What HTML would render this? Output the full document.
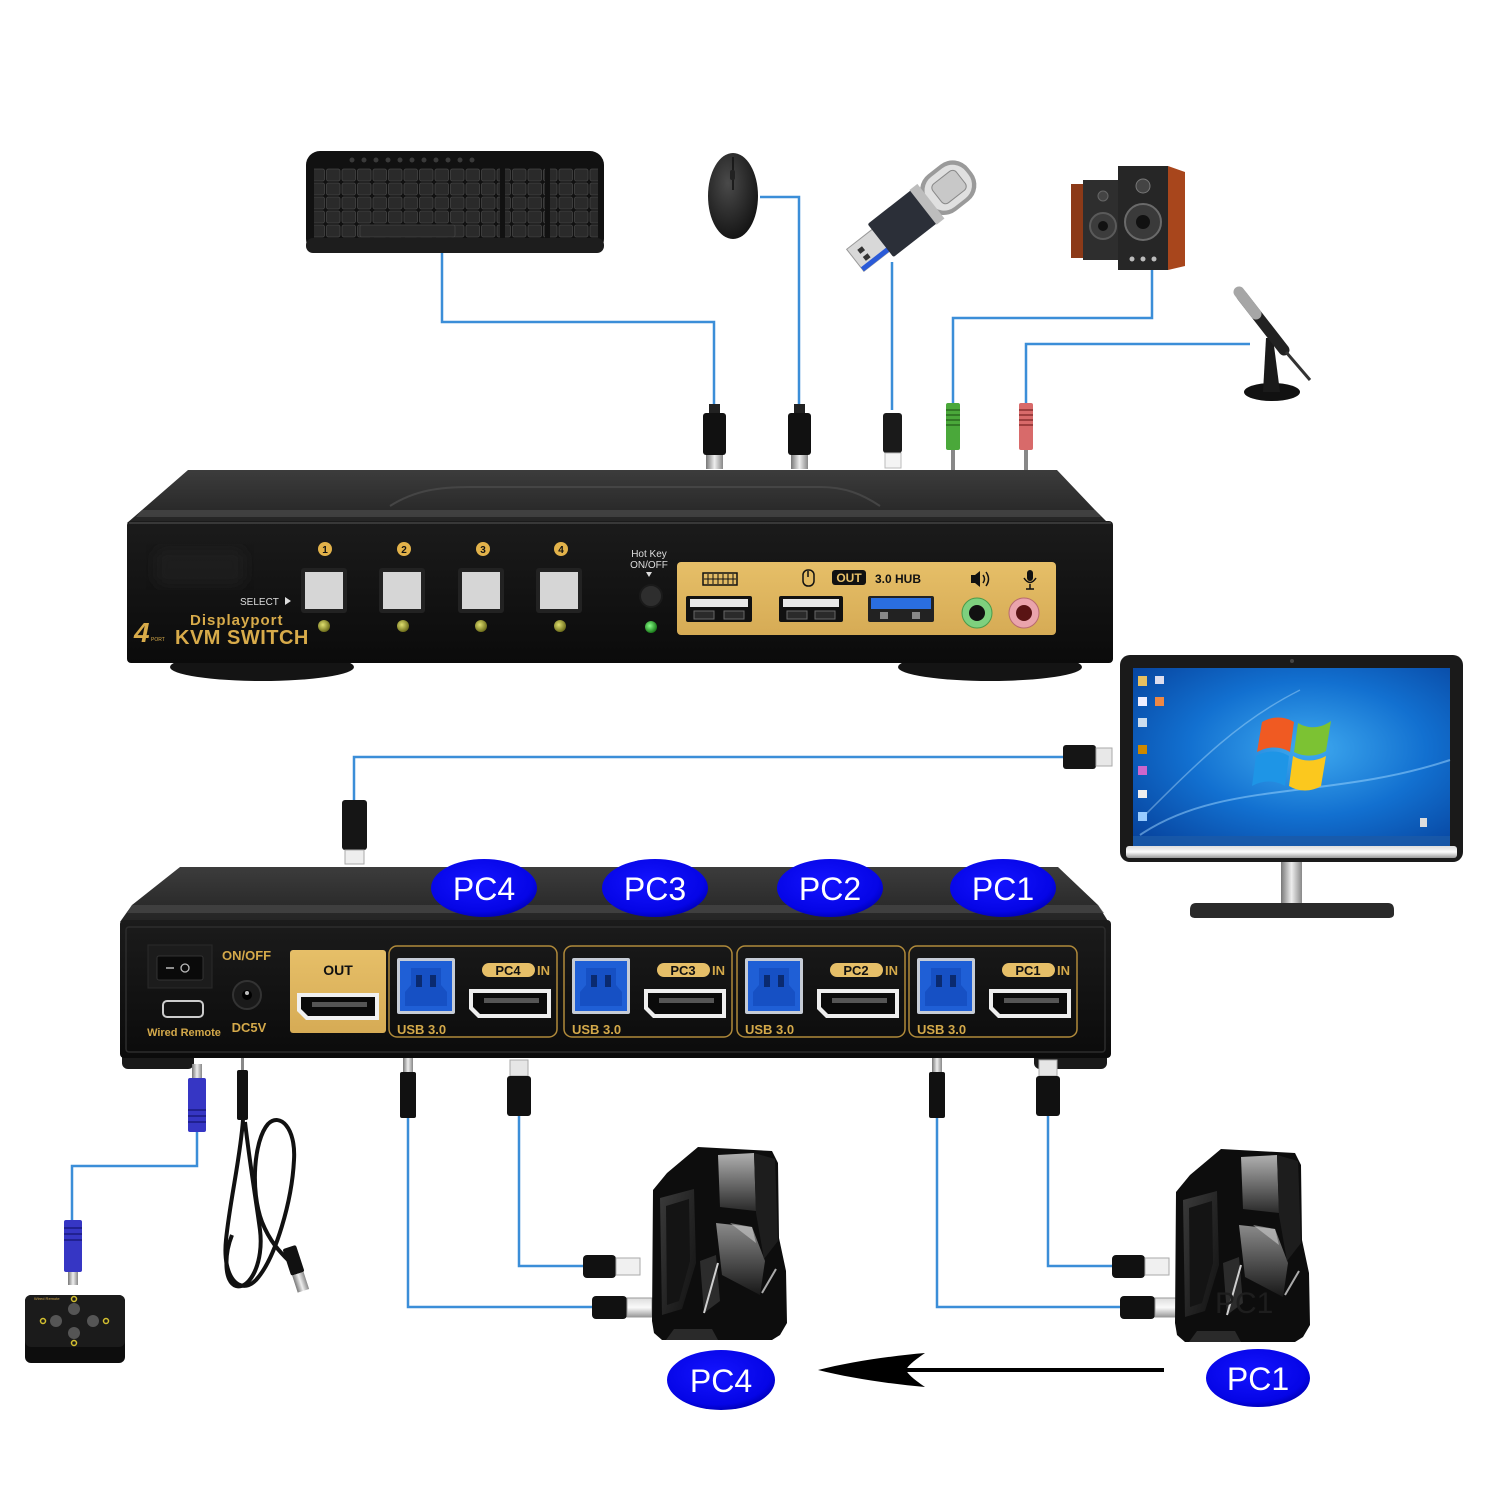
<!DOCTYPE html>
<html><head><meta charset="utf-8"><style>html,body{margin:0;padding:0;background:#fff}svg{display:block}</style></head>
<body>
<svg width="1500" height="1500" viewBox="0 0 1500 1500" xmlns="http://www.w3.org/2000/svg" xmlns:xlink="http://www.w3.org/1999/xlink" font-family="'Liberation Sans', Arial, sans-serif">
<defs>
<linearGradient id="topSurf" x1="0" y1="0" x2="0" y2="1"><stop offset="0" stop-color="#3c3c3c"/><stop offset="1" stop-color="#222"/></linearGradient>
<linearGradient id="face" x1="0" y1="0" x2="0" y2="1"><stop offset="0" stop-color="#1b1b1b"/><stop offset="1" stop-color="#0b0b0b"/></linearGradient>
<linearGradient id="gold" x1="0" y1="0" x2="0" y2="1"><stop offset="0" stop-color="#e6bf68"/><stop offset="1" stop-color="#d6ab55"/></linearGradient>
<linearGradient id="silverH" x1="0" y1="0" x2="1" y2="0"><stop offset="0" stop-color="#777"/><stop offset="0.5" stop-color="#eee"/><stop offset="1" stop-color="#888"/></linearGradient>
<linearGradient id="silverV" x1="0" y1="0" x2="0" y2="1"><stop offset="0" stop-color="#ddd"/><stop offset="0.5" stop-color="#fafafa"/><stop offset="1" stop-color="#999"/></linearGradient>
<radialGradient id="screen" cx="0.55" cy="0.45" r="0.75"><stop offset="0" stop-color="#3faaf0"/><stop offset="0.5" stop-color="#1270d0"/><stop offset="1" stop-color="#06409a"/></radialGradient>
<radialGradient id="ledY" cx="0.4" cy="0.4" r="0.6"><stop offset="0" stop-color="#e0e070"/><stop offset="1" stop-color="#6f6f1c"/></radialGradient>
<radialGradient id="ledG" cx="0.4" cy="0.4" r="0.6"><stop offset="0" stop-color="#8f8"/><stop offset="1" stop-color="#1a7a1a"/></radialGradient>
<radialGradient id="blueLab" cx="0.45" cy="0.4" r="0.6"><stop offset="0" stop-color="#1414ff"/><stop offset="0.85" stop-color="#0505e6"/><stop offset="1" stop-color="#0000c0"/></radialGradient>
<radialGradient id="mouseG" cx="0.4" cy="0.35" r="0.7"><stop offset="0" stop-color="#4a4a4a"/><stop offset="1" stop-color="#121212"/></radialGradient>
<linearGradient id="glossA" x1="0" y1="0" x2="0" y2="1"><stop offset="0" stop-color="#b0b0b0"/><stop offset="1" stop-color="#2a2a2a"/></linearGradient>
<linearGradient id="glossB" x1="0" y1="0" x2="0" y2="1"><stop offset="0" stop-color="#8a8a8a"/><stop offset="1" stop-color="#181818"/></linearGradient>
<linearGradient id="sideG" x1="0" y1="0" x2="1" y2="1"><stop offset="0" stop-color="#3a3a3a"/><stop offset="1" stop-color="#111"/></linearGradient>
<filter id="blur6"><feGaussianBlur stdDeviation="6"/></filter>
<pattern id="keys" width="15.5" height="14" patternUnits="userSpaceOnUse"><rect x="1" y="1" width="13.5" height="12" rx="2" fill="#2a2a2a" stroke="#444" stroke-width="0.8"/></pattern>
<g id="tower">
 <path d="M1,47 L15,30 L46,4 L120,8 L126,20 L127,95 L134,128 L135,180 L128,192 L120,197 L10,197 L2,190 L0,178 Z" fill="#0d0d0d"/>
 <path d="M8,55 L42,46 L44,120 L30,166 L10,172 Z" fill="url(#sideG)"/>
 <path d="M14,63 L37,56 L38,118 L27,158 L15,162 Z" fill="#141414"/>
 <path d="M66,12 L102,10 L104,68 L68,64 Z" fill="url(#glossA)"/>
 <path d="M64,80 L100,84 L113,118 L108,152 L70,132 Z" fill="url(#glossB)"/>
 <path d="M102,10 L123,16 L126,98 L112,116 L104,70 Z" fill="#1d1d1d"/>
 <path d="M48,118 L64,112 L68,158 L52,170 Z" fill="#2c2c2c"/>
 <line x1="52" y1="170" x2="66" y2="120" stroke="#cfcfcf" stroke-width="2"/>
 <line x1="110" y1="150" x2="124" y2="126" stroke="#aaa" stroke-width="2"/>
 <path d="M78,80 L100,84 L104,100 Z" fill="#ccc" opacity="0.6"/>
 <path d="M14,197 L22,186 L60,186 L66,197 Z" fill="#2a2a2a"/>
</g>
</defs>

<rect width="1500" height="1500" fill="#fff"/>

<!-- ============ WIRES (top) ============ -->
<g fill="none" stroke="#3b8ed8" stroke-width="2.5">
 <path d="M442,253 L442,322 L714,322 L714,408"/>
 <path d="M760,197 L799,197 L799,408"/>
 <path d="M892,262 L892,410"/>
 <path d="M1152,268 L1152,318 L953,318 L953,405"/>
 <path d="M1250,344 L1026,344 L1026,405"/>
 <path d="M1065,757 L354,757 L354,802"/>
 <path d="M197,1132 L197,1166 L72,1166 L72,1222"/>
 <path d="M408,1116 L408,1307 L594,1307"/>
 <path d="M519,1115 L519,1266 L585,1266"/>
 <path d="M937,1116 L937,1307 L1122,1307"/>
 <path d="M1048,1115 L1048,1266 L1114,1266"/>
</g>

<!-- ============ KEYBOARD ============ -->
<rect x="306" y="151" width="298" height="102" rx="14" fill="#111"/>
<rect x="306" y="238" width="298" height="15" rx="7" fill="#1d1d1d"/>
<g fill="#3a3a3a">
 <circle cx="352" cy="160" r="2.5"/><circle cx="364" cy="160" r="2.5"/><circle cx="376" cy="160" r="2.5"/><circle cx="388" cy="160" r="2.5"/><circle cx="400" cy="160" r="2.5"/><circle cx="412" cy="160" r="2.5"/><circle cx="424" cy="160" r="2.5"/><circle cx="436" cy="160" r="2.5"/><circle cx="448" cy="160" r="2.5"/><circle cx="460" cy="160" r="2.5"/><circle cx="472" cy="160" r="2.5"/>
</g>
<rect x="314" y="168" width="186" height="70" fill="url(#keys)"/>
<rect x="505" y="168" width="40" height="70" fill="url(#keys)"/>
<rect x="550" y="168" width="48" height="70" fill="url(#keys)"/>
<rect x="360" y="225" width="95" height="12" rx="2" fill="#2a2a2a" stroke="#444" stroke-width="0.8"/>

<!-- ============ MOUSE ============ -->
<ellipse cx="733" cy="196" rx="25" ry="43" fill="url(#mouseG)"/>
<path d="M733,157 L733,190" stroke="#111" stroke-width="1.5"/>
<rect x="730" y="170" width="5" height="10" rx="2" fill="#222"/>

<!-- ============ FLASH DRIVE ============ -->
<g transform="translate(912,216) rotate(-38)">
 <rect x="-72" y="-14" width="34" height="28" fill="#d8d8d8" stroke="#999"/>
 <rect x="-72" y="9" width="34" height="5" fill="#2a5ad8"/>
 <rect x="-64" y="-7" width="6" height="5" fill="#333"/>
 <rect x="-64" y="2" width="6" height="5" fill="#333"/>
 <rect x="-40" y="-21" width="62" height="42" rx="2" fill="#2b2f38"/>
 <rect x="18" y="-23" width="56" height="46" rx="20" fill="#9a9a9a"/>
 <rect x="22" y="-19" width="48" height="38" rx="17" fill="#e0e0e0"/>
 <rect x="32" y="-12" width="30" height="24" rx="5" fill="#c8c8c8" stroke="#888"/>
 <rect x="14" y="-22" width="10" height="44" fill="#bdbdbd"/>
</g>

<!-- ============ SPEAKERS ============ -->
<rect x="1071" y="184" width="13" height="74" fill="#8c3a18"/>
<rect x="1083" y="180" width="40" height="80" fill="#2e2e2e"/>
<circle cx="1103" cy="226" r="13" fill="#3c3c3c" stroke="#5a5a5a" stroke-width="2"/>
<circle cx="1103" cy="226" r="5" fill="#111"/>
<circle cx="1103" cy="196" r="5" fill="#444" stroke="#666"/>
<rect x="1118" y="166" width="50" height="104" fill="#262626"/>
<path d="M1168,166 L1185,172 L1185,266 L1168,270 Z" fill="#a8461c"/>
<circle cx="1143" cy="222" r="18" fill="#3a3a3a" stroke="#6a6a6a" stroke-width="2"/>
<circle cx="1143" cy="222" r="7" fill="#111"/>
<circle cx="1143" cy="186" r="7" fill="#444" stroke="#777"/>
<circle cx="1132" cy="259" r="2.5" fill="#bbb"/><circle cx="1143" cy="259" r="2.5" fill="#bbb"/><circle cx="1154" cy="259" r="2.5" fill="#bbb"/>

<!-- ============ MIC ============ -->
<ellipse cx="1272" cy="392" rx="28" ry="9" fill="#111"/>
<path d="M1263,392 L1266,338 L1273,338 L1280,392 Z" fill="#1a1a1a"/>
<line x1="1242" y1="296" x2="1284" y2="350" stroke="#222" stroke-width="11" stroke-linecap="round"/>
<line x1="1239" y1="292" x2="1256" y2="314" stroke="#a6a6a6" stroke-width="11" stroke-linecap="round"/>
<line x1="1286" y1="352" x2="1310" y2="380" stroke="#333" stroke-width="3"/>

<!-- ============ TOP PLUGS ============ -->
<g>
 <rect x="709" y="404" width="11" height="10" fill="#222"/>
 <rect x="703" y="413" width="23" height="42" rx="3" fill="#111"/>
 <rect x="706" y="455" width="17" height="14" fill="url(#silverH)"/>
 <rect x="794" y="404" width="11" height="10" fill="#222"/>
 <rect x="788" y="413" width="23" height="42" rx="3" fill="#111"/>
 <rect x="791" y="455" width="17" height="14" fill="url(#silverH)"/>
 <rect x="883" y="413" width="19" height="40" rx="3" fill="#1a1a1a"/>
 <rect x="885" y="453" width="16" height="15" fill="#f4f4f4" stroke="#bbb"/>
 <rect x="946" y="403" width="14" height="47" rx="2" fill="#4aa83a"/>
 <g stroke="#2a6a20" stroke-width="1.5"><line x1="946" y1="410" x2="960" y2="410"/><line x1="946" y1="415" x2="960" y2="415"/><line x1="946" y1="420" x2="960" y2="420"/><line x1="946" y1="425" x2="960" y2="425"/></g>
 <rect x="951" y="450" width="4" height="21" fill="#888"/>
 <rect x="1019" y="403" width="14" height="47" rx="2" fill="#d86a6a"/>
 <g stroke="#8a3030" stroke-width="1.5"><line x1="1019" y1="410" x2="1033" y2="410"/><line x1="1019" y1="415" x2="1033" y2="415"/><line x1="1019" y1="420" x2="1033" y2="420"/><line x1="1019" y1="425" x2="1033" y2="425"/></g>
 <rect x="1024" y="450" width="4" height="21" fill="#888"/>
</g>

<!-- ============ TOP BOX (front) ============ -->
<ellipse cx="262" cy="667" rx="92" ry="14" fill="#141414"/>
<ellipse cx="990" cy="667" rx="92" ry="14" fill="#141414"/>
<path d="M188,470 L1057,470 L1095,510 L1112,527 L127,523 L142,510 Z" fill="url(#topSurf)"/>
<path d="M142,510 L1095,510 L1101,517 L136,517 Z" fill="#4a4a4a" opacity="0.7"/>
<path d="M390,506 C415,490 440,487 470,487 L820,487 C845,487 862,494 880,506" fill="none" stroke="#454545" stroke-width="2"/>
<rect x="127" y="521" width="986" height="142" rx="4" fill="url(#face)"/>
<line x1="129" y1="523" x2="1111" y2="523" stroke="#383838" stroke-width="2"/>
<rect x="155" y="548" width="90" height="38" rx="10" fill="#222" opacity="0.6" filter="url(#blur6)"/>

<g font-weight="bold" font-size="10" text-anchor="middle">
 <circle cx="325" cy="549" r="7" fill="#e2b24a"/><text x="325" y="553" fill="#111">1</text>
 <circle cx="404" cy="549" r="7" fill="#e2b24a"/><text x="404" y="553" fill="#111">2</text>
 <circle cx="483" cy="549" r="7" fill="#e2b24a"/><text x="483" y="553" fill="#111">3</text>
 <circle cx="561" cy="549" r="7" fill="#e2b24a"/><text x="561" y="553" fill="#111">4</text>
</g>
<g>
 <rect x="301" y="568" width="46" height="45" rx="3" fill="#222"/><rect x="305" y="572" width="38" height="37" fill="#d6d6d6"/>
 <rect x="379" y="568" width="46" height="45" rx="3" fill="#222"/><rect x="383" y="572" width="38" height="37" fill="#d6d6d6"/>
 <rect x="458" y="568" width="46" height="45" rx="3" fill="#222"/><rect x="462" y="572" width="38" height="37" fill="#d6d6d6"/>
 <rect x="536" y="568" width="46" height="45" rx="3" fill="#222"/><rect x="540" y="572" width="38" height="37" fill="#d6d6d6"/>
 <circle cx="324" cy="626" r="6" fill="url(#ledY)"/>
 <circle cx="403" cy="626" r="6" fill="url(#ledY)"/>
 <circle cx="481" cy="626" r="6" fill="url(#ledY)"/>
 <circle cx="560" cy="626" r="6" fill="url(#ledY)"/>
</g>
<text x="240" y="605" font-size="10" fill="#ddd">SELECT</text>
<polygon points="285,597 291,601 285,605" fill="#ddd"/>
<text x="190" y="625" font-size="15" font-weight="bold" fill="#d8ab4a" letter-spacing="1">Displayport</text>
<text x="175" y="644" font-size="20" font-weight="bold" fill="#d8ab4a" letter-spacing="0.5">KVM SWITCH</text>
<text x="134" y="642" font-size="28" font-weight="bold" font-style="italic" fill="#d8ab4a">4</text>
<text x="151" y="641" font-size="5" fill="#d8ab4a">PORT</text>

<text x="649" y="557" font-size="10" fill="#ddd" text-anchor="middle">Hot Key</text>
<text x="649" y="568" font-size="10" fill="#ddd" text-anchor="middle">ON/OFF</text>
<polygon points="646,572 652,572 649,577" fill="#ddd"/>
<circle cx="651" cy="596" r="11" fill="#2e2e2e" stroke="#1a1a1a" stroke-width="2"/>
<circle cx="651" cy="627" r="6" fill="url(#ledG)"/>

<rect x="677" y="562" width="379" height="73" rx="4" fill="url(#gold)"/>
<rect x="703" y="573" width="34" height="12" fill="none" stroke="#111" stroke-width="1.5"/>
<g stroke="#111" stroke-width="1"><line x1="708" y1="574" x2="708" y2="584"/><line x1="713" y1="574" x2="713" y2="584"/><line x1="718" y1="574" x2="718" y2="584"/><line x1="723" y1="574" x2="723" y2="584"/><line x1="728" y1="574" x2="728" y2="584"/><line x1="733" y1="574" x2="733" y2="584"/><line x1="704" y1="579" x2="736" y2="579"/></g>
<rect x="686" y="596" width="66" height="26" rx="2" fill="#111"/>
<rect x="690" y="599" width="58" height="8" fill="#e8e8e8"/>
<rect x="694" y="611" width="20" height="8" fill="#2a2a2a" stroke="#666"/><rect x="724" y="611" width="20" height="8" fill="#2a2a2a" stroke="#666"/>
<rect x="803" y="570" width="11" height="16" rx="5" fill="none" stroke="#111" stroke-width="1.5"/>
<line x1="808" y1="571" x2="808" y2="577" stroke="#111" stroke-width="1.5"/>
<rect x="779" y="596" width="64" height="26" rx="2" fill="#111"/>
<rect x="783" y="599" width="56" height="8" fill="#e8e8e8"/>
<rect x="787" y="611" width="20" height="8" fill="#2a2a2a" stroke="#666"/><rect x="815" y="611" width="20" height="8" fill="#2a2a2a" stroke="#666"/>
<rect x="832" y="570" width="34" height="15" rx="3" fill="#111"/>
<text x="849" y="582" font-size="12" font-weight="bold" fill="#e6bf68" text-anchor="middle">OUT</text>
<text x="875" y="583" font-size="12" font-weight="bold" fill="#111">3.0 HUB</text>
<rect x="868" y="596" width="66" height="26" rx="2" fill="#222"/>
<rect x="871" y="598" width="60" height="11" fill="#2a6ee0"/>
<rect x="880" y="612" width="8" height="7" fill="#888"/><rect x="912" y="612" width="8" height="7" fill="#888"/>
<polygon points="971,575 975,575 980,571 980,587 975,583 971,583" fill="#111"/>
<path d="M983,575 Q986,579 983,583 M986,572 Q991,579 986,586" fill="none" stroke="#111" stroke-width="1.5"/>
<rect x="1027" y="570" width="6" height="11" rx="3" fill="#111"/>
<path d="M1024,578 Q1030,587 1036,578 M1030,584 L1030,589 M1026,589 L1034,589" fill="none" stroke="#111" stroke-width="1.5"/>
<circle cx="977" cy="613" r="15" fill="#7ed07e" stroke="#4a9a4a"/>
<circle cx="977" cy="613" r="8" fill="#111"/>
<circle cx="1024" cy="613" r="15" fill="#eaa4ac" stroke="#b86a70"/>
<circle cx="1024" cy="613" r="8" fill="#5a1414"/>

<!-- ============ MONITOR ============ -->
<rect x="1120" y="655" width="343" height="207" rx="10" fill="#1a1a1a"/>
<rect x="1133" y="668" width="317" height="180" fill="url(#screen)"/>
<path d="M1140,835 C1220,780 1330,800 1450,760" fill="none" stroke="#9fd8ff" stroke-width="2" opacity="0.5"/>
<path d="M1140,820 C1200,760 1240,720 1300,690" fill="none" stroke="#bfe6ff" stroke-width="1.5" opacity="0.4"/>
<rect x="1133" y="836" width="317" height="10" fill="#1c5aa8" opacity="0.8"/>
<rect x="1126" y="846" width="331" height="12" rx="3" fill="url(#silverV)"/>
<circle cx="1292" cy="661" r="2" fill="#444"/>
<g>
 <rect x="1138" y="676" width="9" height="10" fill="#e8c060"/><rect x="1155" y="676" width="9" height="8" fill="#dde"/>
 <rect x="1138" y="697" width="9" height="9" fill="#eef"/><rect x="1155" y="697" width="9" height="9" fill="#e84"/>
 <rect x="1138" y="718" width="9" height="9" fill="#cde"/>
 <rect x="1138" y="745" width="9" height="9" fill="#c80"/>
 <rect x="1138" y="766" width="9" height="9" fill="#c6c"/>
 <rect x="1138" y="790" width="9" height="8" fill="#eee"/>
 <rect x="1138" y="812" width="9" height="9" fill="#9cf"/>
 <rect x="1420" y="818" width="7" height="9" fill="#ddd"/>
</g>
<path d="M1262,722 C1272,716 1284,716 1294,722 L1290,752 C1280,746 1268,746 1257,752 Z" fill="#f05a22"/>
<path d="M1298,723 C1308,729 1320,729 1331,721 L1326,751 C1316,757 1304,757 1294,752 Z" fill="#7cc233"/>
<path d="M1256,756 C1267,750 1279,750 1289,756 L1285,786 C1275,780 1263,780 1252,786 Z" fill="#1e95e6"/>
<path d="M1293,756 C1303,762 1315,762 1326,756 L1321,786 C1311,792 1299,792 1289,786 Z" fill="#fbc81e"/>
<rect x="1281" y="862" width="21" height="43" fill="url(#silverH)"/>
<path d="M1196,903 L1388,903 Q1394,903 1394,910 L1394,914 Q1394,918 1388,918 L1196,918 Q1190,918 1190,914 L1190,910 Q1190,903 1196,903 Z" fill="#2a2a2a"/>
<rect x="1063" y="745" width="33" height="24" rx="3" fill="#151515"/>
<rect x="1096" y="748" width="16" height="18" fill="#e8e8e8" stroke="#aaa"/>

<!-- DP plug above rear box -->
<rect x="342" y="800" width="25" height="50" rx="3" fill="#151515"/>
<rect x="345" y="850" width="19" height="14" fill="#eee" stroke="#aaa"/>

<!-- ============ BOTTOM BOX (rear) ============ -->
<rect x="122" y="1050" width="72" height="19" rx="6" fill="#1a1a1a"/>
<rect x="1034" y="1050" width="73" height="19" rx="6" fill="#1a1a1a"/>
<path d="M180,867 L1058,867 L1098,905 L1111,926 L120,922 L132,905 Z" fill="url(#topSurf)"/>
<path d="M132,905 L1098,905 L1104,913 L127,913 Z" fill="#484848" opacity="0.7"/>
<rect x="120" y="920" width="991" height="138" rx="4" fill="url(#face)"/>
<rect x="126" y="927" width="979" height="125" rx="3" fill="none" stroke="#2c2c2c" stroke-width="1.5"/>

<g text-anchor="middle" font-size="32" fill="#fff">
 <ellipse cx="484" cy="888" rx="53" ry="29" fill="url(#blueLab)"/><text x="484" y="900">PC4</text>
 <ellipse cx="655" cy="888" rx="53" ry="29" fill="url(#blueLab)"/><text x="655" y="900">PC3</text>
 <ellipse cx="830" cy="888" rx="53" ry="29" fill="url(#blueLab)"/><text x="830" y="900">PC2</text>
 <ellipse cx="1003" cy="888" rx="53" ry="29" fill="url(#blueLab)"/><text x="1003" y="900">PC1</text>
</g>

<rect x="148" y="945" width="64" height="43" fill="#1c1c1c" stroke="#2a2a2a"/>
<rect x="157" y="956" width="46" height="24" rx="2" fill="#0a0a0a" stroke="#333"/>
<line x1="166" y1="968" x2="174" y2="968" stroke="#bbb" stroke-width="1.5"/>
<circle cx="185" cy="968" r="4" fill="none" stroke="#bbb" stroke-width="1.3"/>
<text x="222" y="960" font-size="13" font-weight="bold" fill="#d4a94a">ON/OFF</text>
<rect x="163" y="1001" width="40" height="16" rx="4" fill="#111" stroke="#ccc" stroke-width="2"/>
<text x="184" y="1036" font-size="11" font-weight="bold" fill="#d4a94a" text-anchor="middle">Wired Remote</text>
<circle cx="247" cy="995" r="14" fill="#1a1a1a" stroke="#333" stroke-width="2"/>
<circle cx="247" cy="995" r="5" fill="#000"/><circle cx="247" cy="993" r="2" fill="#bbb"/>
<text x="249" y="1032" font-size="13" font-weight="bold" fill="#d4a94a" text-anchor="middle">DC5V</text>

<rect x="290" y="950" width="96" height="83" rx="3" fill="url(#gold)"/>
<text x="338" y="975" font-size="14" font-weight="bold" fill="#111" text-anchor="middle">OUT</text>
<path d="M297,993 L379,993 L379,1020 L306,1020 L297,1011 Z" fill="#f0f0f0"/>
<path d="M301,997 L375,997 L375,1016 L308,1016 L301,1009 Z" fill="#0a0a0a"/>
<rect x="312" y="1002" width="55" height="5" fill="#555"/>

<g transform="translate(389,0)">
 <rect x="0" y="946" width="168" height="91" rx="8" fill="none" stroke="#b08a3a" stroke-width="1.5"/>
 <rect x="8" y="958" width="58" height="56" rx="2" fill="#c6ccd6"/>
 <rect x="11" y="961" width="52" height="50" fill="#1f5fd6"/>
 <path d="M22,968 L52,968 L52,985 L58,992 L58,1006 L16,1006 L16,992 L22,985 Z" fill="#1650c4"/>
 <rect x="27" y="975" width="6" height="12" fill="#0a2a70"/><rect x="41" y="975" width="6" height="12" fill="#0a2a70"/>
 <rect x="93" y="963" width="53" height="14" rx="7" fill="#e6bf68"/>
 <text x="119" y="975" font-size="13" font-weight="bold" fill="#111" text-anchor="middle">PC4</text>
 <text x="148" y="975" font-size="13" font-weight="bold" fill="#d4a94a">IN</text>
 <path d="M80,989 L162,989 L162,1018 L89,1018 L80,1009 Z" fill="#eee"/>
 <path d="M84,993 L158,993 L158,1014 L91,1014 L84,1007 Z" fill="#0a0a0a"/>
 <rect x="95" y="998" width="55" height="5" fill="#555"/>
 <text x="8" y="1034" font-size="13" font-weight="bold" fill="#d4a94a">USB 3.0</text>
</g>
<g transform="translate(564,0)">
 <rect x="0" y="946" width="168" height="91" rx="8" fill="none" stroke="#b08a3a" stroke-width="1.5"/>
 <rect x="8" y="958" width="58" height="56" rx="2" fill="#c6ccd6"/>
 <rect x="11" y="961" width="52" height="50" fill="#1f5fd6"/>
 <path d="M22,968 L52,968 L52,985 L58,992 L58,1006 L16,1006 L16,992 L22,985 Z" fill="#1650c4"/>
 <rect x="27" y="975" width="6" height="12" fill="#0a2a70"/><rect x="41" y="975" width="6" height="12" fill="#0a2a70"/>
 <rect x="93" y="963" width="53" height="14" rx="7" fill="#e6bf68"/>
 <text x="119" y="975" font-size="13" font-weight="bold" fill="#111" text-anchor="middle">PC3</text>
 <text x="148" y="975" font-size="13" font-weight="bold" fill="#d4a94a">IN</text>
 <path d="M80,989 L162,989 L162,1018 L89,1018 L80,1009 Z" fill="#eee"/>
 <path d="M84,993 L158,993 L158,1014 L91,1014 L84,1007 Z" fill="#0a0a0a"/>
 <rect x="95" y="998" width="55" height="5" fill="#555"/>
 <text x="8" y="1034" font-size="13" font-weight="bold" fill="#d4a94a">USB 3.0</text>
</g>
<g transform="translate(737,0)">
 <rect x="0" y="946" width="168" height="91" rx="8" fill="none" stroke="#b08a3a" stroke-width="1.5"/>
 <rect x="8" y="958" width="58" height="56" rx="2" fill="#c6ccd6"/>
 <rect x="11" y="961" width="52" height="50" fill="#1f5fd6"/>
 <path d="M22,968 L52,968 L52,985 L58,992 L58,1006 L16,1006 L16,992 L22,985 Z" fill="#1650c4"/>
 <rect x="27" y="975" width="6" height="12" fill="#0a2a70"/><rect x="41" y="975" width="6" height="12" fill="#0a2a70"/>
 <rect x="93" y="963" width="53" height="14" rx="7" fill="#e6bf68"/>
 <text x="119" y="975" font-size="13" font-weight="bold" fill="#111" text-anchor="middle">PC2</text>
 <text x="148" y="975" font-size="13" font-weight="bold" fill="#d4a94a">IN</text>
 <path d="M80,989 L162,989 L162,1018 L89,1018 L80,1009 Z" fill="#eee"/>
 <path d="M84,993 L158,993 L158,1014 L91,1014 L84,1007 Z" fill="#0a0a0a"/>
 <rect x="95" y="998" width="55" height="5" fill="#555"/>
 <text x="8" y="1034" font-size="13" font-weight="bold" fill="#d4a94a">USB 3.0</text>
</g>
<g transform="translate(909,0)">
 <rect x="0" y="946" width="168" height="91" rx="8" fill="none" stroke="#b08a3a" stroke-width="1.5"/>
 <rect x="8" y="958" width="58" height="56" rx="2" fill="#c6ccd6"/>
 <rect x="11" y="961" width="52" height="50" fill="#1f5fd6"/>
 <path d="M22,968 L52,968 L52,985 L58,992 L58,1006 L16,1006 L16,992 L22,985 Z" fill="#1650c4"/>
 <rect x="27" y="975" width="6" height="12" fill="#0a2a70"/><rect x="41" y="975" width="6" height="12" fill="#0a2a70"/>
 <rect x="93" y="963" width="53" height="14" rx="7" fill="#e6bf68"/>
 <text x="119" y="975" font-size="13" font-weight="bold" fill="#111" text-anchor="middle">PC1</text>
 <text x="148" y="975" font-size="13" font-weight="bold" fill="#d4a94a">IN</text>
 <path d="M80,989 L162,989 L162,1018 L89,1018 L80,1009 Z" fill="#eee"/>
 <path d="M84,993 L158,993 L158,1014 L91,1014 L84,1007 Z" fill="#0a0a0a"/>
 <rect x="95" y="998" width="55" height="5" fill="#555"/>
 <text x="8" y="1034" font-size="13" font-weight="bold" fill="#d4a94a">USB 3.0</text>
</g>

<!-- ============ BOTTOM PLUGS ============ -->
<g>
 <rect x="403" y="1058" width="10" height="14" fill="url(#silverH)"/>
 <rect x="400" y="1072" width="16" height="46" rx="2" fill="#111"/>
 <rect x="510" y="1060" width="18" height="16" fill="#e6e6e6" stroke="#aaa"/>
 <rect x="507" y="1076" width="24" height="40" rx="3" fill="#111"/>
 <rect x="932" y="1058" width="10" height="14" fill="url(#silverH)"/>
 <rect x="929" y="1072" width="16" height="46" rx="2" fill="#111"/>
 <rect x="1039" y="1060" width="18" height="16" fill="#e6e6e6" stroke="#aaa"/>
 <rect x="1036" y="1076" width="24" height="40" rx="3" fill="#111"/>
 <rect x="583" y="1255" width="33" height="23" rx="4" fill="#111"/>
 <rect x="616" y="1258" width="24" height="17" fill="#f0f0f0" stroke="#aaa"/>
 <rect x="592" y="1296" width="35" height="23" rx="4" fill="#111"/>
 <rect x="627" y="1298" width="25" height="19" fill="url(#silverV)" stroke="#999"/>
 <rect x="1112" y="1255" width="33" height="23" rx="4" fill="#111"/>
 <rect x="1145" y="1258" width="24" height="17" fill="#f0f0f0" stroke="#aaa"/>
 <rect x="1120" y="1296" width="35" height="23" rx="4" fill="#111"/>
 <rect x="1155" y="1298" width="25" height="19" fill="url(#silverV)" stroke="#999"/>
</g>

<!-- remote cable plugs -->
<rect x="192" y="1064" width="10" height="14" fill="url(#silverH)"/>
<rect x="188" y="1078" width="18" height="54" rx="2" fill="#3636c4"/>
<g stroke="#1a1a80" stroke-width="1.5"><line x1="188" y1="1110" x2="206" y2="1110"/><line x1="188" y1="1116" x2="206" y2="1116"/><line x1="188" y1="1122" x2="206" y2="1122"/></g>
<rect x="64" y="1220" width="18" height="52" rx="2" fill="#3636c4"/>
<g stroke="#1a1a80" stroke-width="1.5"><line x1="64" y1="1228" x2="82" y2="1228"/><line x1="64" y1="1234" x2="82" y2="1234"/><line x1="64" y1="1240" x2="82" y2="1240"/></g>
<rect x="68" y="1272" width="10" height="13" fill="url(#silverH)"/>

<!-- remote -->
<rect x="25" y="1295" width="100" height="68" rx="6" fill="#0d0d0d"/>
<rect x="25" y="1295" width="100" height="52" rx="6" fill="#1b1b1b"/>
<circle cx="74" cy="1309" r="6" fill="#555"/><circle cx="56" cy="1321" r="6" fill="#555"/><circle cx="93" cy="1321" r="6" fill="#555"/><circle cx="74" cy="1333" r="6" fill="#555"/>
<g fill="none" stroke="#d4c030" stroke-width="1.5"><circle cx="74" cy="1299" r="2.5"/><circle cx="43" cy="1321" r="2.5"/><circle cx="106" cy="1321" r="2.5"/><circle cx="74" cy="1343" r="2.5"/></g>
<text x="34" y="1300" font-size="4" fill="#d4a94a">Wired Remote</text>

<!-- power cable -->
<rect x="241" y="1058" width="3" height="12" fill="#888"/>
<rect x="237" y="1070" width="11" height="50" rx="2" fill="#111"/>
<g fill="none" stroke="#111" stroke-width="4">
 <path d="M243,1120 C240,1160 230,1200 226,1240 C222,1278 240,1296 256,1280 C276,1258 292,1200 294,1160 C296,1128 280,1112 268,1124 C254,1140 250,1190 262,1222 C270,1242 280,1252 290,1262"/>
 <path d="M245,1122 C250,1165 256,1200 260,1230 C264,1262 250,1290 236,1286 C224,1282 224,1255 232,1235"/>
</g>
<g transform="translate(296,1268) rotate(-18)">
 <rect x="-7" y="-22" width="14" height="28" rx="2" fill="#111"/>
 <rect x="-6" y="6" width="12" height="18" fill="url(#silverH)"/>
</g>

<!-- ============ TOWERS ============ -->
<use xlink:href="#tower" href="#tower" x="652" y="1143"/>
<use xlink:href="#tower" href="#tower" x="1175" y="1145"/>
<text x="1215" y="1313" font-size="30" fill="#1e1e1e">PC1</text>

<!-- labels -->
<g text-anchor="middle" font-size="32" fill="#fff">
 <ellipse cx="721" cy="1380" rx="54" ry="30" fill="url(#blueLab)"/><text x="721" y="1392">PC4</text>
 <ellipse cx="1258" cy="1378" rx="52" ry="29" fill="url(#blueLab)"/><text x="1258" y="1390">PC1</text>
</g>

<!-- arrow -->
<line x1="1164" y1="1370" x2="840" y2="1370" stroke="#000" stroke-width="4"/>
<path d="M818,1370 C850,1362 890,1356 925,1353 C912,1362 908,1366 906,1370 C908,1374 912,1378 925,1387 C890,1384 850,1378 818,1370 Z" fill="#000"/>
</svg>
</body></html>
